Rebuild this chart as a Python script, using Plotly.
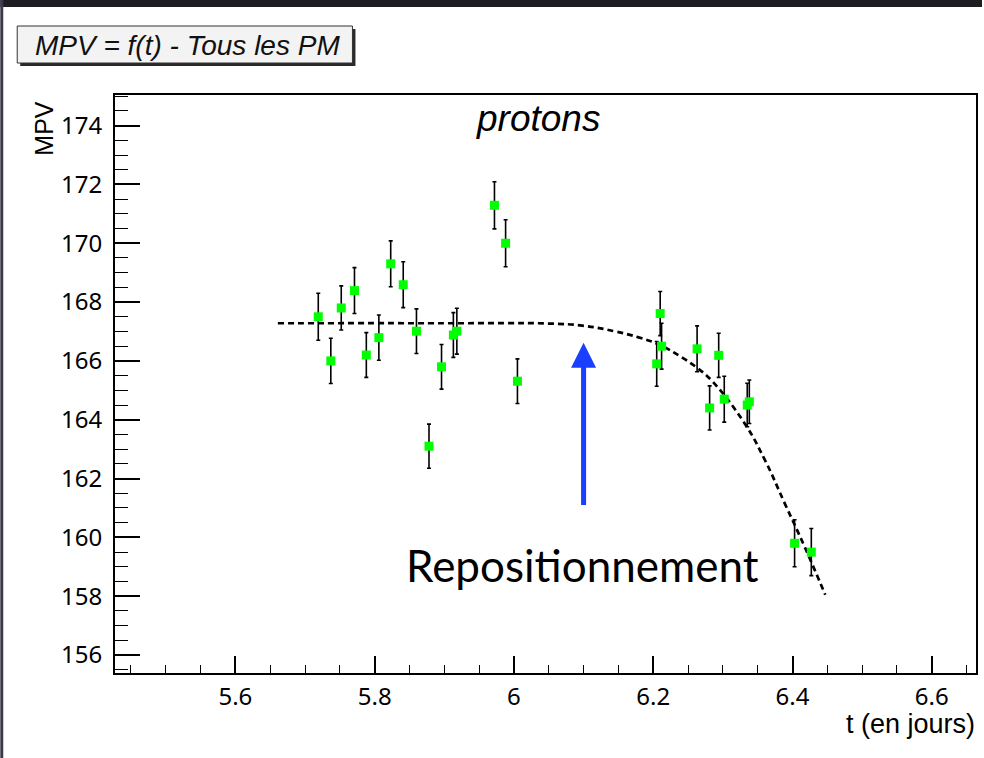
import plotly.graph_objects as go

# MPV measurements versus time (days), all photomultipliers, protons
t_days = [5.719, 5.737, 5.752, 5.771, 5.788, 5.806, 5.823, 5.841, 5.860, 5.878,
          5.896, 5.913, 5.918, 5.972, 5.988, 6.005, 6.205, 6.210, 6.212, 6.263,
          6.281, 6.294, 6.302, 6.335, 6.338, 6.403, 6.427]
mpv = [167.50, 166.00, 167.80, 168.39, 166.20, 166.79, 169.30, 168.59, 167.01, 163.10,
       165.80, 166.88, 167.01, 171.29, 170.00, 165.31, 165.90, 167.61, 166.50, 166.41,
       164.40, 166.19, 164.70, 164.50, 164.61, 159.80, 159.50]
mpv_err = [0.80, 0.77, 0.75, 0.78, 0.76, 0.77, 0.78, 0.78, 0.76, 0.75,
           0.76, 0.76, 0.78, 0.80, 0.80, 0.76, 0.76, 0.75, 0.78, 0.78,
           0.75, 0.75, 0.78, 0.74, 0.74, 0.80, 0.80]

# Fitted trend (dashed curve)
fit_t = [5.661, 5.900, 6.050, 6.098, 6.146, 6.179, 6.208, 6.241, 6.261, 6.284,
         6.332, 6.361, 6.389, 6.418, 6.447]
fit_mpv = [167.28, 167.28, 167.27, 167.20, 167.00, 166.80, 166.56, 166.12, 165.80, 165.33,
           163.85, 162.60, 161.15, 159.65, 158.05]

x_range = [5.4271, 6.6635]
y_range = [155.39, 175.04]

W, H = 984, 758
L, R, T, B = 115, 6, 95, 85
PW, PH = W - L - R, H - T - B


def px(xp):
    return (xp - L) / PW


def py(yp):
    return (H - B - yp) / PH


fig = go.Figure()

fig.add_trace(go.Scatter(
    x=fit_t, y=fit_mpv, mode="lines",
    line=dict(color="black", width=2.7, dash="6px,4px", shape="spline", smoothing=1.2),
    hoverinfo="skip", showlegend=False,
))

fig.add_trace(go.Scatter(
    x=t_days, y=mpv, mode="markers",
    marker=dict(symbol="square", size=9, color="#00ff00", line=dict(width=0)),
    error_y=dict(type="data", array=mpv_err, visible=True, color="black",
                 thickness=1.6, width=2),
    showlegend=False,
))

tick_font = dict(family="Noto Sans", size=24, color="black")

fig.update_xaxes(
    range=x_range, tickmode="array",
    tickvals=[5.6, 5.8, 6.0, 6.2, 6.4, 6.6],
    ticktext=["5.6", "5.8", "6", "6.2", "6.4", "6.6"],
    ticks="inside", ticklen=17, tickwidth=1.6, tickcolor="black",
    minor=dict(ticks="inside", ticklen=8, dtick=0.05, tick0=5.4, tickwidth=1.3,
               tickcolor="black", showgrid=False),
    showline=True, linewidth=2, linecolor="black", mirror=True,
    showgrid=False, zeroline=False, tickfont=tick_font, ticklabelstandoff=1,
)
fig.update_yaxes(
    range=y_range, tickmode="linear", tick0=156, dtick=2,
    ticks="inside", ticklen=25, tickwidth=1.6, tickcolor="black",
    minor=dict(ticks="inside", ticklen=13, dtick=0.5, tick0=156, tickwidth=1.3,
               tickcolor="black", showgrid=False),
    showline=True, linewidth=2, linecolor="black", mirror=True,
    showgrid=False, zeroline=False, tickfont=tick_font, ticklabelstandoff=6,
)

shapes = [
    # dark band along the top and left edge of the canvas
    dict(type="rect", xref="paper", yref="paper", x0=px(0), x1=px(W), y0=py(7), y1=py(0),
         fillcolor="#1e1e22", line=dict(width=0), layer="above"),
    dict(type="rect", xref="paper", yref="paper", x0=px(0), x1=px(3), y0=py(H), y1=py(0),
         fillcolor="#3a3a48", line=dict(width=0), layer="above"),
    # title box with drop shadow
    dict(type="rect", xref="paper", yref="paper", x0=px(20), x1=px(356), y0=py(66), y1=py(29),
         fillcolor="#2a2a2a", line=dict(width=0)),
    dict(type="rect", xref="paper", yref="paper", x0=px(17), x1=px(353), y0=py(63), y1=py(26),
         fillcolor="#f3f3f3", line=dict(color="#333333", width=1)),
]

annotations = [
    dict(text="MPV = f(t) - Tous les PM", xref="paper", yref="paper",
         x=px(33), y=py(45), xanchor="left", yanchor="middle", showarrow=False,
         font=dict(family="Liberation Sans", size=28, color="#111111", style="italic")),
    dict(text="protons", xref="paper", yref="paper",
         x=px(539), y=py(118), xanchor="center", yanchor="middle", showarrow=False,
         font=dict(family="Liberation Sans", size=37, color="black", style="italic")),
    dict(text="MPV", xref="paper", yref="paper", textangle=-90,
         x=px(43), y=py(99), xanchor="center", yanchor="top", showarrow=False,
         font=dict(family="Liberation Sans", size=25, color="black")),
    dict(text="t (en jours)", xref="paper", yref="paper",
         x=px(979), y=py(724), xanchor="right", yanchor="middle", showarrow=False,
         font=dict(family="Liberation Sans", size=27, color="black")),
    dict(text="Repositionnement", xref="paper", yref="paper",
         x=px(584), y=py(565), xanchor="center", yanchor="middle", showarrow=False,
         font=dict(family="Lato", size=44, color="black")),
    dict(text="", x=6.1, y=166.62, xref="x", yref="y", ax=6.1, ay=161.05,
         axref="x", ayref="y", showarrow=True, arrowhead=2, arrowsize=1,
         arrowwidth=5, arrowcolor="#1a3fff", standoff=0),
]

fig.update_layout(
    width=W, height=H,
    margin=dict(l=L, r=R, t=T, b=B),
    paper_bgcolor="white", plot_bgcolor="white",
    shapes=shapes, annotations=annotations,
    showlegend=False,
)

fig.write_html("out.html")
